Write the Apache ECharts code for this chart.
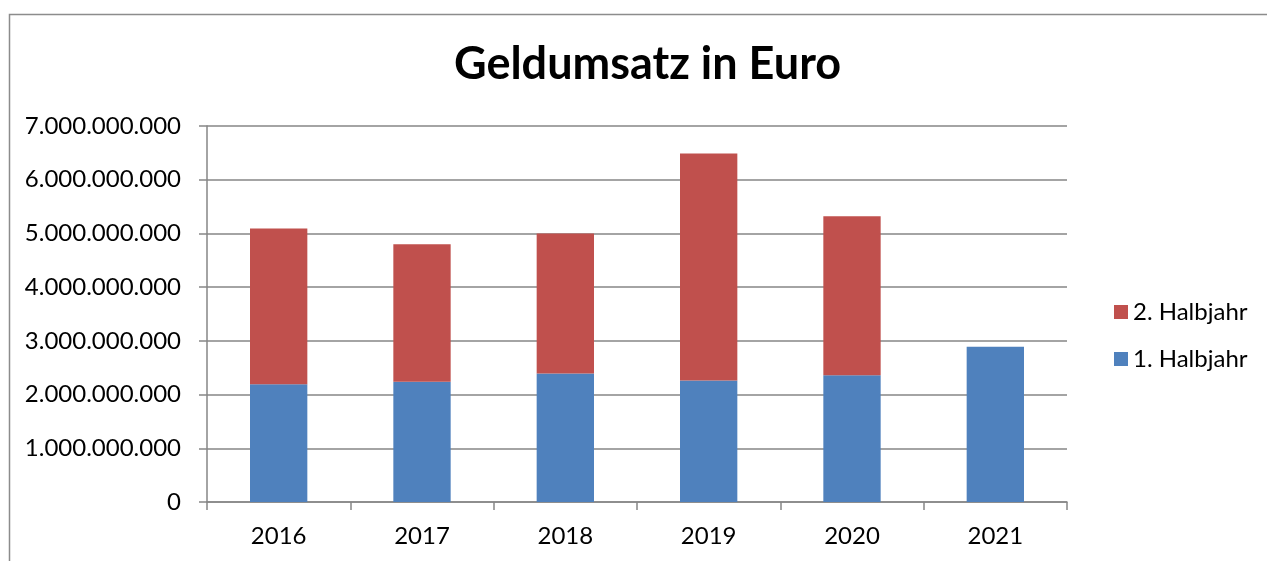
<!DOCTYPE html>
<html>
<head>
<meta charset="utf-8">
<script src="https://cdn.jsdelivr.net/npm/echarts@6/dist/echarts.min.js"></script>
<style>
html,body{margin:0;padding:0;background:#fff;}
#chart{width:1267px;height:561px;}
</style>
</head>
<body>
<div id="chart"></div>
<script>
// Jahre
var years = ['2016', '2017', '2018', '2019', '2020', '2021'];
// 1. Halbjahr
var half1 = [2190000000, 2240000000, 2390000000, 2260000000, 2360000000, 2890000000];
// 2. Halbjahr
var half2 = [2900000000, 2560000000, 2610000000, 4230000000, 2960000000, 0];
var yTicks = [0, 1000000000, 2000000000, 3000000000, 4000000000, 5000000000, 6000000000, 7000000000];

var fontName = 'Lato';

// Tausenderpunkt
function fmt(v) {
    return String(v).replace(/\B(?=(\d{3})+(?!\d))/g, '.');
}

var myChart = echarts.init(document.getElementById('chart'));
var option = {
    animation: false,
    backgroundColor: '#fff',
    title: {
        text: 'Geldumsatz in Euro',
        left: 449,
        top: 37,
        textStyle: {
            fontFamily: fontName,
            fontWeight: 'bold',
            fontSize: 45,
            color: '#000'
        }
    },
    graphic: [{
        type: 'rect',
        shape: {x: 9.5, y: 14.5, width: 1400, height: 700},
        style: {fill: 'none', stroke: '#8c8c8c', lineWidth: 1.5},
        silent: true
    }],
    legend: {
        orient: 'vertical',
        left: 1109,
        top: 295,
        itemWidth: 14,
        itemHeight: 14,
        itemGap: 23,
        icon: 'rect',
        data: ['2. Halbjahr', '1. Halbjahr'],
        textStyle: {fontFamily: fontName, fontSize: 24, color: '#000'}
    },
    grid: {left: 207, right: 200, top: 126, bottom: 59},
    xAxis: {
        type: 'category',
        data: years,
        axisLine: {lineStyle: {color: '#868686', width: 1.5}},
        axisTick: {show: true, length: 8, alignWithLabel: false, lineStyle: {color: '#868686', width: 1.5}},
        axisLabel: {fontFamily: fontName, fontSize: 24, color: '#000', margin: 22}
    },
    yAxis: {
        type: 'value',
        min: 0,
        max: 7000000000,
        interval: 1000000000,
        axisLine: {show: true, lineStyle: {color: '#868686', width: 1.5}},
        axisTick: {show: true, length: 8, lineStyle: {color: '#868686', width: 1.5}},
        splitLine: {lineStyle: {color: '#868686', width: 1.5}},
        axisLabel: {
            fontFamily: fontName, fontSize: 24, color: '#000', margin: 26,
            formatter: function (v) { return fmt(v); }
        }
    },
    series: [{
        name: '1. Halbjahr',
        type: 'bar',
        stack: 'total',
        barWidth: '40%',
        data: half1,
        itemStyle: {color: '#4F81BD'}
    }, {
        name: '2. Halbjahr',
        type: 'bar',
        stack: 'total',
        barWidth: '40%',
        data: half2,
        itemStyle: {color: '#C0504D'}
    }]
};
myChart.setOption(option);
</script>
</body>
</html>
